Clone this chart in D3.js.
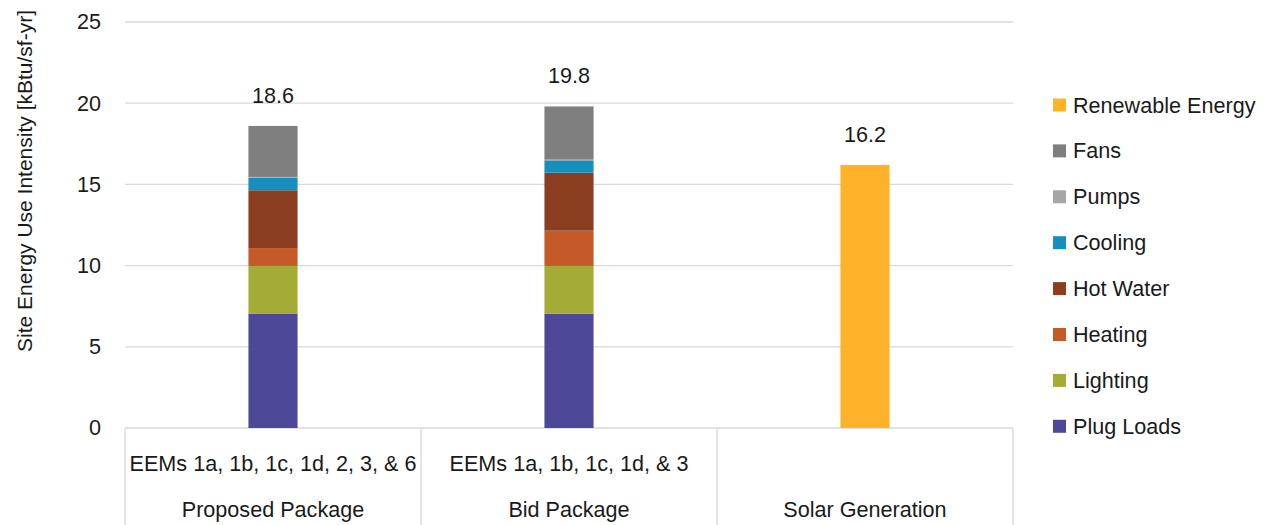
<!DOCTYPE html>
<html>
<head>
<meta charset="utf-8">
<script src="https://cdn.jsdelivr.net/npm/d3@7"></script>
<style>
  html, body { margin: 0; padding: 0; background: #fff; }
  svg text { font-family: "Liberation Sans", Arial, sans-serif; fill: #1a1a1a; }
</style>
</head>
<body>
<svg id="chart" width="1268" height="525"></svg>
<script>
// Site energy use intensity by package, stacked by end use (kBtu/sf-yr)
const packages = ["Proposed Package", "Bid Package", "Solar Generation"];
const measures = ["EEMs 1a, 1b, 1c, 1d, 2, 3, & 6", "EEMs 1a, 1b, 1c, 1d, & 3", ""];
const endUses = ["Plug Loads", "Lighting", "Heating", "Hot Water", "Cooling", "Pumps", "Fans", "Renewable Energy"];
const plugLoads  = [7.05, 7.04, 0];
const lighting   = [2.93, 2.94, 0];
const heating    = [1.10, 2.17, 0];
const hotWater   = [3.56, 3.57, 0];
const cooling    = [0.77, 0.76, 0];
const pumps      = [0.05, 0.05, 0];
const fans       = [3.14, 3.27, 0];
const renewable  = [0, 0, 16.2];
const totals     = [18.6, 19.8, 16.2];
const yTicks     = [0, 5, 10, 15, 20, 25];
const colors = ["#4e4899", "#a5ac36", "#c45a28", "#8c3f20", "#168fbf", "#a6a6a6", "#7f7f7f", "#fdb22a"];

const series = [plugLoads, lighting, heating, hotWater, cooling, pumps, fans, renewable];
const rows = packages.map((p, i) => {
  const r = { pkg: p };
  endUses.forEach((u, k) => { r[u] = series[k][i]; });
  return r;
});

const svg = d3.select("#chart");
const plotLeft = 125, plotRight = 1013, plotTop = 22, plotBottom = 428;
const fs = 21.6;

const x = d3.scaleBand().domain(packages).range([plotLeft, plotRight]).padding(0);
const y = d3.scaleLinear().domain([0, 25]).range([plotBottom, plotTop]);
const color = d3.scaleOrdinal().domain(endUses).range(colors);
const barW = x.bandwidth() * 0.166;

// horizontal gridlines
svg.append("g")
  .selectAll("line").data(yTicks).join("line")
  .attr("x1", plotLeft).attr("x2", plotRight)
  .attr("y1", d => y(d)).attr("y2", d => y(d))
  .attr("stroke", "#d9d9d9").attr("stroke-width", 1.3);

// y axis tick labels
const yAxis = d3.axisLeft(y).tickValues(yTicks).tickSize(0).tickPadding(0).tickFormat(d3.format("d"));
const ya = svg.append("g").attr("transform", "translate(101,0)").call(yAxis);
ya.select(".domain").remove();
ya.selectAll("text").attr("font-size", fs).style("font-family", '"Liberation Sans", Arial, sans-serif').attr("fill", "#1a1a1a");

// y axis title
svg.append("text")
  .attr("transform", `translate(32,${(10 + 352) / 2}) rotate(-90)`)
  .attr("text-anchor", "middle")
  .attr("font-size", 21)
  .text("Site Energy Use Intensity [kBtu/sf-yr]");

// stacked bars
const stack = d3.stack().keys(endUses)(rows);
svg.append("g")
  .selectAll("g").data(stack).join("g")
  .attr("fill", d => color(d.key))
  .selectAll("rect").data(d => d).join("rect")
  .attr("x", d => x(d.data.pkg) + (x.bandwidth() - barW) / 2)
  .attr("width", barW)
  .attr("y", d => y(d[1]))
  .attr("height", d => y(d[0]) - y(d[1]));

// total labels above bars
svg.append("g")
  .selectAll("text").data(packages).join("text")
  .attr("x", d => x(d) + x.bandwidth() / 2)
  .attr("y", (d, i) => y(totals[i]) - 23)
  .attr("text-anchor", "middle")
  .attr("font-size", fs)
  .text((d, i) => totals[i].toFixed(1));

// category axis: separators and two label levels
const xa = svg.append("g");
xa.selectAll("line.sep").data([...packages.map(p => x(p)), plotRight]).join("line")
  .attr("class", "sep")
  .attr("x1", d => d).attr("x2", d => d)
  .attr("y1", plotBottom).attr("y2", 525)
  .attr("stroke", "#d9d9d9").attr("stroke-width", 1.3);
xa.selectAll("text.m").data(packages).join("text")
  .attr("class", "m")
  .attr("x", d => x(d) + x.bandwidth() / 2)
  .attr("y", 471)
  .attr("text-anchor", "middle")
  .attr("font-size", fs)
  .text((d, i) => measures[i]);
xa.selectAll("text.p").data(packages).join("text")
  .attr("class", "p")
  .attr("x", d => x(d) + x.bandwidth() / 2)
  .attr("y", 517)
  .attr("text-anchor", "middle")
  .attr("font-size", fs)
  .text(d => d);

// legend, listed top to bottom in reverse stacking order
const legendItems = endUses.slice().reverse();
const lg = svg.append("g").selectAll("g").data(legendItems).join("g")
  .attr("transform", (d, i) => `translate(1053,${105 + i * 45.9})`);
lg.append("rect").attr("x", 0).attr("y", -6.5).attr("width", 13).attr("height", 13)
  .attr("fill", d => color(d));
lg.append("text").attr("x", 20).attr("y", 7.5).attr("font-size", fs).text(d => d);
</script>
</body>
</html>
